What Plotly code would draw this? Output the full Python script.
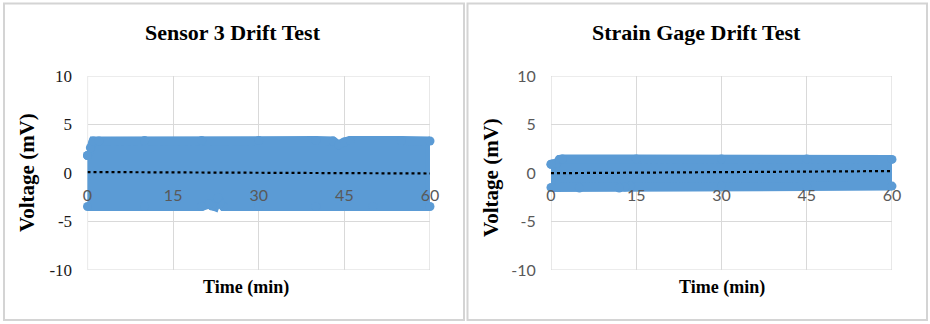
import plotly.graph_objects as go

# ---- data ----
x_ticks = [0, 15, 30, 45, 60]
x_tick_text = ["0", "15", "30", "45", "60"]
y_ticks = [-10, -5, 0, 5, 10]
y_tick_text = ["-10", "-5", "0", "5", "10"]

# Sensor 3: envelope of the dense scatter band (mV)
s3_time = [0, 0.5, 1, 2, 10, 20, 30, 40, 43, 44, 45, 46, 55, 60]
s3_upper = [1.8, 2.6, 3.3, 3.3, 3.35, 3.35, 3.35, 3.35, 3.3, 2.9, 3.2, 3.35, 3.35, 3.3]
s3_low_time = [0, 10, 20, 21.3, 21.8, 22.3, 22.8, 23.3, 23.8, 30, 40, 50, 60]
s3_lower = [-3.45, -3.45, -3.45, -3.2, -3.4, -3.45, -2.55, -3.1, -3.45, -3.45, -3.45, -3.45, -3.45]
s3_trend_t = [0, 60]
s3_trend_v = [0.1, -0.05]

# Strain gage: envelope of the dense scatter band (mV)
sg_time = [0, 0.5, 1, 1.5, 2, 15, 30, 45, 60]
sg_upper = [0.9, 0.95, 1.0, 1.4, 1.45, 1.45, 1.45, 1.45, 1.4]
sg_low_time = [0, 5, 12, 13, 14, 30, 45, 60]
sg_lower = [-1.5, -1.55, -1.55, -1.45, -1.35, -1.35, -1.35, -1.35]
sg_trend_t = [0, 60]
sg_trend_v = [-0.02, 0.2]

BLUE = "#5B9BD5"
GRID = "#D9D9D9"
FRAME = "#D4D4D4"
TICK = "#595959"
SERIF = "Liberation Serif"
SANS = "Lato"

W, H = 930, 324
ytop, ybot = 76, 270
ydom = [(H - ybot) / H, (H - ytop) / H]
zero_pos = (ydom[0] + ydom[1]) / 2
xdoms = [[87.5 / W, 430 / W], [551 / W, 892 / W]]

fig = go.Figure()

panels = [
    ("x", "y", s3_time, s3_upper, s3_low_time, s3_lower, s3_trend_t, s3_trend_v),
    ("x2", "y2", sg_time, sg_upper, sg_low_time, sg_lower, sg_trend_t, sg_trend_v),
]
for xa, ya, t_up, up, t_lo, lo, tt, tv in panels:
    poly_x = list(t_up) + list(reversed(t_lo))
    poly_y = list(up) + list(reversed(lo))
    fig.add_trace(go.Scatter(
        x=poly_x + [poly_x[0]], y=poly_y + [poly_y[0]], xaxis=xa, yaxis=ya,
        mode="lines+markers", fill="toself", fillcolor=BLUE,
        line=dict(color=BLUE, width=9), marker=dict(color=BLUE, size=9),
        showlegend=False, hoverinfo="skip", cliponaxis=False))
    fig.add_trace(go.Scatter(
        x=tt, y=tv, xaxis=xa, yaxis=ya, mode="lines",
        line=dict(color="black", width=2.2, dash="dot"),
        showlegend=False, hoverinfo="skip"))

yfonts = [dict(family=SERIF, size=17, color="#1a1a1a"),
          dict(family=SANS, size=16, color=TICK)]
for i, (xa, ya) in enumerate([("xaxis", "yaxis"), ("xaxis2", "yaxis2")]):
    xname = "x" if i == 0 else "x2"
    fig.layout[xa] = dict(
        domain=xdoms[i], range=[0, 60], tickvals=x_ticks, ticktext=x_tick_text,
        anchor="free", position=zero_pos, showgrid=True, gridcolor=GRID, gridwidth=1,
        zeroline=False, showline=False, ticks="outside", ticklen=8, automargin=False,
        tickcolor="rgba(0,0,0,0)", tickfont=dict(family=SANS, size=16, color=TICK),
        fixedrange=True)
    fig.layout[ya] = dict(
        domain=ydom, range=[-10, 10], tickvals=y_ticks, ticktext=y_tick_text,
        anchor=xname, showgrid=True, gridcolor=GRID, gridwidth=1, zeroline=False,
        showline=False, ticks="outside", ticklen=11, tickcolor="rgba(0,0,0,0)",
        automargin=False, tickfont=yfonts[i], fixedrange=True)

shapes = []
for xr, yr in [("x", "y"), ("x2", "y2")]:
    shapes.append(dict(type="rect", xref=xr, yref=yr, x0=0, x1=60, y0=-10, y1=10,
                       line=dict(color=GRID, width=1.2), layer="below"))
for x0, x1 in [(4, 464), (467.5, 927)]:
    shapes.append(dict(type="rect", xref="paper", yref="paper",
                       x0=x0 / W, x1=x1 / W, y0=(H - 320) / H, y1=(H - 3.5) / H,
                       line=dict(color=FRAME, width=2)))
fig.update_layout(shapes=shapes)

ann = []
for txt, cx in [("Sensor 3 Drift Test", 233), ("Strain Gage Drift Test", 696)]:
    ann.append(dict(text=f"<b>{txt}</b>", x=cx / W, y=(H - 32) / H, xref="paper", yref="paper",
                    xanchor="center", yanchor="middle", showarrow=False,
                    font=dict(family=SERIF, size=22, color="black")))
for cx in [246, 722]:
    ann.append(dict(text="<b>Time (min)</b>", x=cx / W, y=(H - 287) / H, xref="paper", yref="paper",
                    xanchor="center", yanchor="middle", showarrow=False,
                    font=dict(family=SERIF, size=18, color="black")))
for cx, cy in [(27, 173), (491, 178)]:
    ann.append(dict(text="<b>Voltage (mV)</b>", x=cx / W, y=(H - cy) / H, xref="paper", yref="paper",
                    xanchor="center", yanchor="middle", showarrow=False, textangle=-90,
                    font=dict(family=SERIF, size=21, color="black")))
fig.update_layout(annotations=ann)

fig.update_layout(template="none", width=W, height=H, autosize=False,
                  margin=dict(l=0, r=0, t=0, b=0, pad=0),
                  paper_bgcolor="white", plot_bgcolor="white")

fig.write_html("out.html", config={"displayModeBar": False, "responsive": False},
               post_script="document.body.style.margin='0px';")
